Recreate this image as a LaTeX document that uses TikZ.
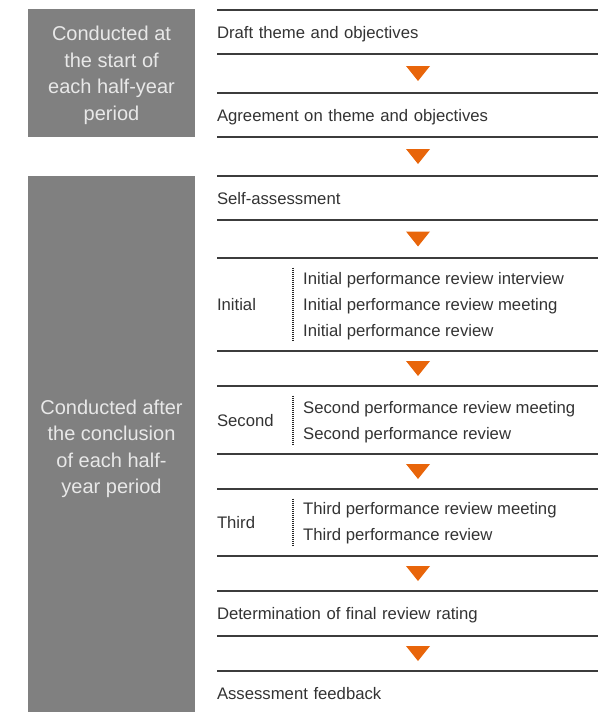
\documentclass[tikz,border=0pt]{standalone}
\usepackage{fontspec}
\setmainfont{Liberation Sans}
\usetikzlibrary{
  positioning,  % Function "of" (e.g. [below=of x])
  calc,         % Midpoints between steps
}
\definecolor{phasegray}{HTML}{808080}
\definecolor{phasetext}{HTML}{E8E8E8}
\definecolor{steptext}{HTML}{333333}
\definecolor{rulegray}{HTML}{3C3C3C}
\definecolor{steporange}{HTML}{E8650A}
\newcommand{\stepfont}{\fontsize{16.7}{26}\selectfont}
\newcommand{\phasefont}{\fontsize{20}{26.5}\selectfont}
% Orange marker in the gap between two steps
\newcommand{\nextstep}[2]{%
  \fill[my arrow] ($(#1.south west)!0.5!(#2.north west)+(189,-7.5)$)
    -- ++(24,0) -- ++(-12,15) -- cycle;}
\def\mygap{35pt}
\def\myrowh{44pt}
\tikzset{
  my step/.style={
    rectangle,
    minimum width=381pt,
    text width=381pt,
    minimum height=\myrowh,
    inner xsep=0pt,
    inner ysep=0pt,
    outer sep=0pt,
    align=left,
    text height=12pt,
    text depth=0pt,
    font=\stepfont,
    text=steptext
  },
  my items/.style={
    anchor=west,
    align=left,
    inner sep=0pt,
    font=\stepfont,
    text=steptext
  },
  my phase/.style={
    rectangle,
    fill=phasegray,
    minimum width=167pt,
    inner sep=0pt,
    outer sep=0pt,
    anchor=north west
  },
  my phase text/.style={
    align=center,
    inner sep=0pt,
    font=\phasefont,
    text=phasetext
  },
  my rule/.style={
    draw=rulegray,
    line width=1.1pt
  },
  my bracket/.style={
    draw=black!85,
    line width=1.1pt,
    dash pattern=on 1pt off 1pt
  },
  my arrow/.style={
    fill=steporange
  }
}
\begin{document}
\begin{tikzpicture}[x=1pt, y=-1pt, node distance=\mygap]
\useasboundingbox (0,0) rectangle (598,712);
% steps
\node[my step, anchor=north west] (draft) at (217,10) {Draft theme and objectives};
\node[my step, below=39pt of draft] (agree) {Agreement on theme and objectives};
\node[my step, below=39pt of agree] (self) {Self-assessment};
\node[my step, minimum height=93pt, below=38pt of self] (initial) {Initial};
\node[my step, minimum height=68pt, below=of initial] (second) {Second};
\node[my step, minimum height=67pt, below=of second] (third) {Third};
\node[my step, minimum height=45pt, below=of third] (final) {Determination of final review rating};
\node[my step, below=of final] (feedback) {Assessment feedback};
% reviews of each round
\node[my items, yshift=-1.6pt] (initial items) at ([xshift=86pt]initial.west)
  {Initial performance review interview\\Initial performance review meeting\\Initial performance review};
\node[my items, yshift=-2.3pt] (second items) at ([xshift=86pt]second.west)
  {Second performance review meeting\\Second performance review};
\node[my items, yshift=-1pt] (third items) at ([xshift=86pt]third.west)
  {Third performance review meeting\\Third performance review};
% phases
\node[my phase, minimum height=128pt] (start) at (28,9) {};
\node[my phase, minimum height=536pt] (after) at (self.north west -| start.west) {};
\node[my phase text, yshift=-2.5pt] (start text) at (start.center)
  {Conducted at\\the start of\\each half-year\\period};
\node[my phase text, yshift=-5pt] (after text) at (after.center)
  {Conducted after\\the conclusion\\of each half-\\year period};
% rules
\foreach \r in {draft,agree,self,initial,second,third,final}
  \draw[my rule] (\r.north west) -- (\r.north east) (\r.south west) -- (\r.south east);
\draw[my rule] (feedback.north west) -- (feedback.north east);
\foreach \r in {initial,second,third}
  \draw[my bracket] ([xshift=76pt,yshift=-9.5pt]\r.north west) -- ([xshift=76pt,yshift=9.5pt]\r.south west);
% markers
\foreach \a/\b in {draft/agree,agree/self,self/initial,initial/second,second/third,third/final,final/feedback}
  {\nextstep{\a}{\b}}
\end{tikzpicture}
\end{document}
